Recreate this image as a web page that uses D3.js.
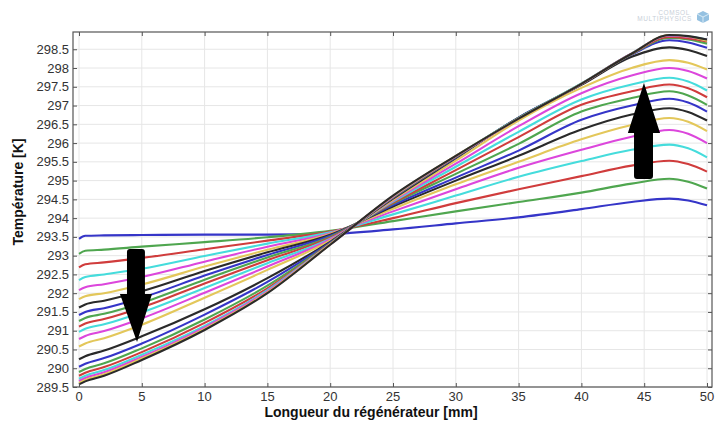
<!DOCTYPE html>
<html><head><meta charset="utf-8">
<script src="https://cdn.jsdelivr.net/npm/d3@7"></script>
<style>body{margin:0;background:#fff}svg{display:block}</style>
</head><body>
<svg id="c" width="716" height="421"></svg>
<script>
// ---- data ----
const positions = [0, 0.5, 2, 5, 10, 15, 20, 25, 30, 35, 40, 44, 47, 48.5, 50];
const curves = [
  [293.45,293.53,293.54,293.55,293.56,293.56,293.58,293.70,293.86,294.02,294.24,294.43,294.52,294.47,294.34],
  [293.05,293.13,293.16,293.24,293.36,293.49,293.66,293.92,294.18,294.43,294.68,294.92,295.05,294.97,294.79],
  [292.69,292.77,292.82,292.94,293.17,293.40,293.64,294.00,294.40,294.77,295.12,295.40,295.53,295.44,295.24],
  [292.35,292.43,292.50,292.65,292.99,293.32,293.62,294.10,294.60,295.10,295.52,295.82,295.96,295.86,295.62],
  [292.08,292.16,292.24,292.43,292.84,293.24,293.60,294.18,294.77,295.34,295.82,296.17,296.35,296.25,296.00],
  [291.84,291.92,292.00,292.23,292.71,293.16,293.58,294.25,294.90,295.50,296.10,296.48,296.67,296.57,296.32],
  [291.62,291.70,291.80,292.05,292.59,293.09,293.56,294.31,295.00,295.66,296.36,296.76,296.93,296.83,296.60],
  [291.42,291.50,291.60,291.88,292.47,293.02,293.53,294.35,295.08,295.80,296.62,297.00,297.18,297.08,296.84],
  [291.26,291.34,291.45,291.74,292.36,292.95,293.50,294.39,295.18,295.98,296.84,297.20,297.38,297.27,297.02],
  [291.11,291.19,291.31,291.62,292.26,292.88,293.48,294.41,295.28,296.16,297.02,297.38,297.56,297.46,297.22],
  [290.97,291.05,291.17,291.49,292.14,292.80,293.45,294.44,295.37,296.30,297.16,297.56,297.74,297.64,297.40],
  [290.78,290.86,290.99,291.33,292.01,292.71,293.43,294.47,295.45,296.45,297.33,297.80,298.00,297.92,297.72],
  [290.58,290.66,290.80,291.16,291.88,292.62,293.40,294.49,295.53,296.60,297.47,298.00,298.21,298.14,297.96],
  [290.24,290.32,290.47,290.85,291.57,292.40,293.37,294.52,295.60,296.68,297.55,298.30,298.55,298.48,298.32],
  [290.04,290.12,290.27,290.66,291.43,292.30,293.35,294.54,295.62,296.68,297.57,298.36,298.74,298.68,298.54],
  [289.90,289.98,290.13,290.53,291.30,292.20,293.33,294.55,295.63,296.67,297.58,298.37,298.80,298.76,298.65],
  [289.80,289.88,290.03,290.43,291.21,292.13,293.32,294.56,295.64,296.66,297.58,298.38,298.83,298.79,298.71],
  [289.72,289.80,289.95,290.36,291.13,292.08,293.31,294.57,295.65,296.66,297.59,298.39,298.87,298.84,298.76],
  [289.66,289.74,289.89,290.30,291.09,292.05,293.30,294.58,295.65,296.65,297.58,298.39,298.87,298.83,298.75],
  [289.61,289.69,289.84,290.26,291.05,292.02,293.30,294.59,295.66,296.65,297.58,298.38,298.88,298.84,298.73],
  [289.57,289.65,289.80,290.22,291.02,292.00,293.29,294.60,295.66,296.65,297.58,298.38,298.88,298.85,298.76]
];
const palette = ["#3535c8","#4fa64f","#d03c3c","#45dcdc","#dc46dc","#e3c75a","#2a2a2a"];
const xTicks = [0,5,10,15,20,25,30,35,40,45,50];
const yTicks = [289.5,290,290.5,291,291.5,292,292.5,293,293.5,294,294.5,295,295.5,296,296.5,297,297.5,298,298.5];
const xTitle = "Longueur du régénérateur [mm]";
const yTitle = "Température [K]";
// arrows: [xLeftShaft, xRightShaft, xLeftHead, xRightHead, tailT, headBaseT, tipX, tipT]
const downArrow = [3.82, 5.25, 3.26, 5.81, 293.18, 291.98, 4.62, 290.70];
const upArrow   = [44.19, 45.70, 43.70, 46.26, 295.04, 296.27, 44.98, 297.60];

// ---- layout ----
const svg = d3.select("#c");
const frame = {l:73, r:712, t:32, b:387};
const x = d3.scaleLinear().domain([0,50]).range([79,707]);
const y = d3.scaleLinear().domain([289.5,298.96]).range([387,32]);

// grid
const g = svg.append("g");
g.selectAll("line.vg").data(xTicks).enter().append("line")
  .attr("x1",d=>x(d)).attr("x2",d=>x(d)).attr("y1",frame.t).attr("y2",frame.b)
  .attr("stroke","#e6e6e6").attr("stroke-width",1);
g.selectAll("line.hg").data(yTicks).enter().append("line")
  .attr("x1",frame.l).attr("x2",frame.r).attr("y1",d=>y(d)).attr("y2",d=>y(d))
  .attr("stroke","#e6e6e6").attr("stroke-width",1);

// curves
const line = d3.line().x((d,i)=>x(positions[i])).y(d=>y(d)).curve(d3.curveMonotoneX);
svg.append("g").selectAll("path").data(curves).enter().append("path")
  .attr("d",line).attr("fill","none")
  .attr("stroke",(d,i)=>palette[i%palette.length])
  .attr("stroke-width",2.1).attr("stroke-linejoin","round");

// frame
svg.append("rect").attr("x",frame.l).attr("y",frame.t)
  .attr("width",frame.r-frame.l).attr("height",frame.b-frame.t)
  .attr("fill","none").attr("stroke","#555").attr("stroke-width",1.2);

// axes (ticks inward)
const fontFam = "Liberation Sans, Arial, Helvetica, sans-serif";
const axL = d3.axisRight(y).tickValues(yTicks).tickSize(4).tickFormat("");
svg.append("g").attr("transform",`translate(${frame.l},0)`).call(axL)
  .call(s=>s.select(".domain").remove()).selectAll("line").attr("stroke","#555");
const axR = d3.axisLeft(y).tickValues(yTicks).tickSize(4).tickFormat("");
svg.append("g").attr("transform",`translate(${frame.r},0)`).call(axR)
  .call(s=>s.select(".domain").remove()).selectAll("line").attr("stroke","#555");
const axT = d3.axisBottom(x).tickValues(xTicks).tickSize(4).tickFormat("");
svg.append("g").attr("transform",`translate(0,${frame.t})`).call(axT)
  .call(s=>s.select(".domain").remove()).selectAll("line").attr("stroke","#555");
const axB = d3.axisTop(x).tickValues(xTicks).tickSize(4).tickFormat("");
svg.append("g").attr("transform",`translate(0,${frame.b})`).call(axB)
  .call(s=>s.select(".domain").remove()).selectAll("line").attr("stroke","#555");

// tick labels
svg.append("g").selectAll("text").data(yTicks).enter().append("text")
  .attr("x",69).attr("y",d=>y(d)+4.5).attr("text-anchor","end")
  .attr("font-family",fontFam).attr("font-size",13).attr("fill","#333")
  .text(d=>d3.format("")(d));
svg.append("g").selectAll("text").data(xTicks).enter().append("text")
  .attr("x",d=>x(d)).attr("y",401).attr("text-anchor","middle")
  .attr("font-family",fontFam).attr("font-size",13).attr("fill","#333")
  .text(d=>d);

// titles
svg.append("text").attr("x",371).attr("y",417).attr("text-anchor","middle")
  .attr("font-family",fontFam).attr("font-size",14).attr("font-weight","bold").attr("fill","#111")
  .text(xTitle);
svg.append("text").attr("transform","translate(23,192) rotate(-90)").attr("text-anchor","middle")
  .attr("font-family",fontFam).attr("font-size",14).attr("font-weight","bold").attr("fill","#111")
  .text(yTitle);

// arrows
function arrowPath(a){
  const [xl,xr,hl,hr,tail,base,tx,tt] = a;
  const p = d3.path();
  const r = 3;
  const dir = Math.sign(y(base)-y(tail));
  p.moveTo(x(xl), y(tail)+dir*r);
  p.quadraticCurveTo(x(xl), y(tail), x(xl)+r, y(tail));
  p.lineTo(x(xr)-r, y(tail));
  p.quadraticCurveTo(x(xr), y(tail), x(xr), y(tail)+dir*r);
  p.lineTo(x(xr), y(base));
  p.lineTo(x(hr), y(base));
  p.lineTo(x(tx), y(tt));
  p.lineTo(x(hl), y(base));
  p.lineTo(x(xl), y(base));
  p.closePath();
  return p.toString();
}
svg.append("path").attr("d",arrowPath(downArrow)).attr("fill","#000");
svg.append("path").attr("d",arrowPath(upArrow)).attr("fill","#000");

// logo
const logo = svg.append("g").attr("opacity",0.55);
logo.append("text").attr("x",690).attr("y",15).attr("text-anchor","end")
  .attr("font-family",fontFam).attr("font-size",6.5).attr("fill","#9aa8b8").attr("letter-spacing",0.6).text("COMSOL");
logo.append("text").attr("x",692).attr("y",21).attr("text-anchor","end")
  .attr("font-family",fontFam).attr("font-size",6.5).attr("fill","#9aa8b8").attr("letter-spacing",0.6).text("MULTIPHYSICS");
logo.append("path").attr("d","M697,14 L703,11 L709,14 L709,20 L703,23 L697,20 Z").attr("fill","#3f8fc9");
logo.append("path").attr("d","M697,14 L703,17 L709,14 M703,17 L703,23").attr("stroke","#d8ecf8").attr("stroke-width",0.8).attr("fill","none");
</script>
</body></html>
